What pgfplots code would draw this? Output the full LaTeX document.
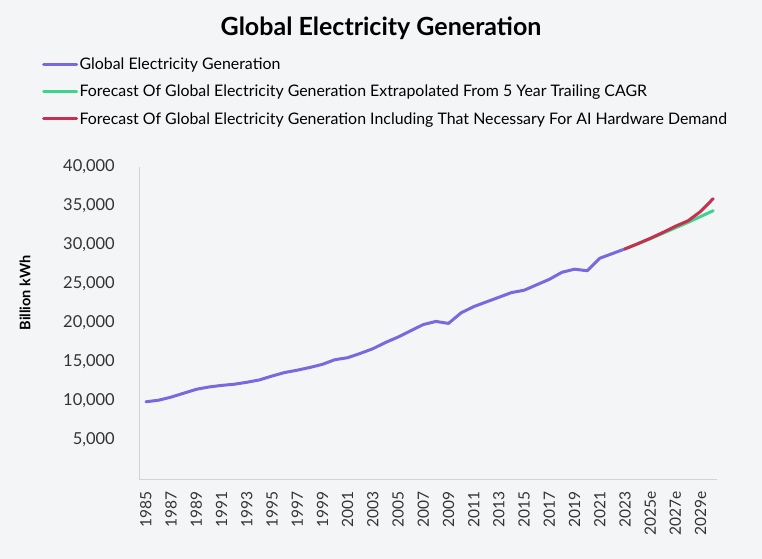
\documentclass[border=0pt]{standalone}
\usepackage{fontspec}
\setmainfont{Lato}
\usepackage{pgfplots}
\pgfplotsset{compat=1.18}

\definecolor{bg}{HTML}{F4F5F7}
\definecolor{axisgray}{HTML}{D2D3D6}
\definecolor{ticktext}{HTML}{333333}
\definecolor{histblue}{HTML}{7A68DE}
\definecolor{cagrgreen}{HTML}{3FD48E}
\definecolor{aired}{HTML}{C62F4D}

\begin{document}
\begin{tikzpicture}
\useasboundingbox (0,0) rectangle (762bp,559bp);
\fill[bg] (0,0) rectangle (762bp,559bp);
\node[font=\fontsize{25bp}{29bp}\selectfont\bfseries] at (381bp,531bp) {Global Electricity Generation};

\begin{axis}[
  at={(139bp,80bp)}, anchor=south west, scale only axis,
  width=578bp, height=312bp,
  xmin=1984.45, xmax=2030.3, ymin=0, ymax=40000,
  axis lines=left, axis line style={draw=axisgray, line width=1bp, -},
  major tick length=0pt,
  xtick={1985,1987,...,2029},
  xticklabels={1985,1987,1989,1991,1993,1995,1997,1999,2001,2003,2005,2007,2009,2011,2013,2015,2017,2019,2021,2023,2025e,2027e,2029e},
  ytick={5000,10000,...,40000},
  scaled y ticks=false,
  /pgf/number format/assume math mode=true,
  /pgf/number format/1000 sep={,},
  xticklabel style={font=\fontsize{15.5bp}{18bp}\selectfont, text=ticktext, inner sep=0pt, rotate=90, anchor=east,
    execute at end node={\hspace*{12bp}}},
  yticklabel style={font=\fontsize{16.5bp}{19bp}\selectfont, text=ticktext, inner sep=0pt, anchor=east,
    execute at end node={\hspace*{24bp}}},
  ylabel={Billion kWh},
  ylabel style={font=\fontsize{14.5bp}{17bp}\selectfont\bfseries, at={(axis description cs:-0.197,0.596)}, rotate=0, anchor=center},
  legend style={at={(axis description cs:-0.168,1.355)}, anchor=north west, draw=none, fill=none,
    inner sep=0pt, row sep=11bp, font=\fontsize{15.9bp}{18bp}\selectfont, nodes={inner sep=1.5bp}},
  legend cell align=left,
  legend image code/.code={\draw[line width=3bp] (0bp,0bp) -- (33bp,0bp);},
  every axis plot/.append style={line width=3bp, line join=round, line cap=round},
]
\addplot[histblue] coordinates {
(1985,9900) (1986,10100) (1987,10500) (1988,11000) (1989,11500) (1990,11800)
(1991,12000) (1992,12150) (1993,12400) (1994,12700) (1995,13200) (1996,13650)
(1997,13950) (1998,14300) (1999,14700) (2000,15300) (2001,15550) (2002,16100)
(2003,16700) (2004,17500) (2005,18200) (2006,19000) (2007,19800) (2008,20200)
(2009,19950) (2010,21300) (2011,22100) (2012,22700) (2013,23300) (2014,23900)
(2015,24200) (2016,24900) (2017,25600) (2018,26500) (2019,26900) (2020,26700)
(2021,28300) (2022,28900) (2023,29500)};
\addlegendentry{Global Electricity Generation}
\addplot[cagrgreen] coordinates {
(2023,29500) (2024,30150) (2025,30800) (2026,31500) (2027,32200) (2028,32900)
(2029,33650) (2030,34400)};
\addlegendentry{Forecast Of Global Electricity Generation Extrapolated From 5 Year Trailing CAGR}
\addplot[aired] coordinates {
(2023,29500) (2024,30150) (2025,30850) (2026,31600) (2027,32400) (2028,33100)
(2029,34300) (2030,35950)};
\addlegendentry{Forecast Of Global Electricity Generation Including That Necessary For AI Hardware Demand}
\end{axis}
\end{tikzpicture}
\end{document}
